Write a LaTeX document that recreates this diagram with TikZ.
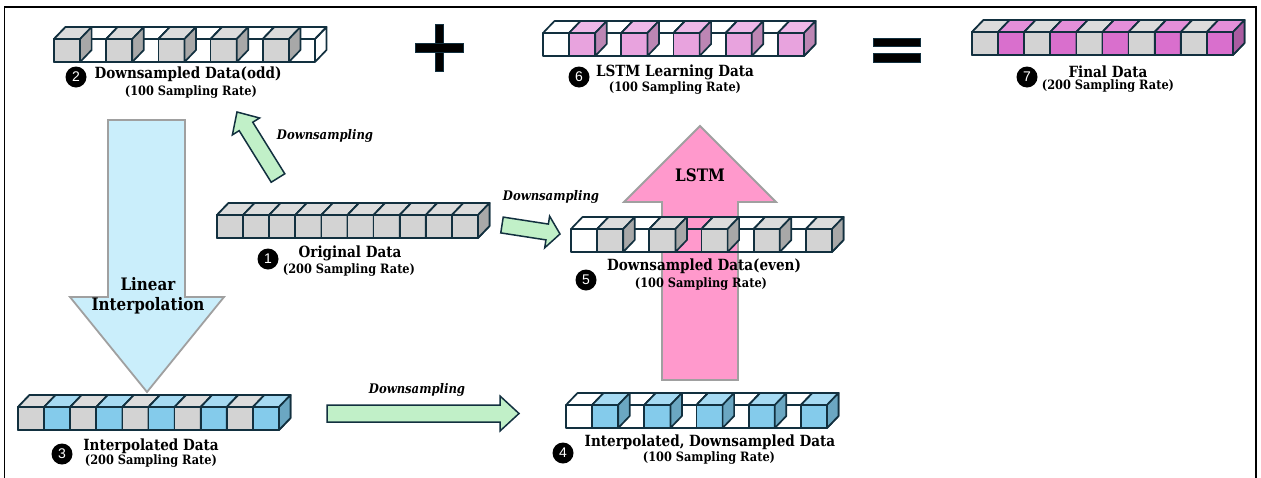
\documentclass[tikz,border=0pt]{standalone}
\usepackage{fontspec}
\setmainfont{DejaVu Serif}[FakeStretch=0.88]
\newfontfamily\numfont{Liberation Sans}
\usetikzlibrary{calc}
\definecolor{edge}{HTML}{12303F}
\definecolor{frontg}{HTML}{D3D3D3}
\definecolor{topg}{HTML}{DCDCDC}
\definecolor{sideg}{HTML}{A8A8A8}
\definecolor{frontb}{HTML}{84CBEB}
\definecolor{topb}{HTML}{A6DAF2}
\definecolor{sideb}{HTML}{6BA7C2}
\definecolor{frontp}{HTML}{E8A3DE}
\definecolor{topp}{HTML}{EEB8E8}
\definecolor{sidep}{HTML}{BC86B4}
\definecolor{frontm}{HTML}{D96FCD}
\definecolor{topm}{HTML}{E48FD9}
\definecolor{sidem}{HTML}{AA5CA1}
\definecolor{arrowgreen}{HTML}{C1F0C8}
\definecolor{arrowblue}{HTML}{CAEEFB}
\definecolor{arrowpink}{HTML}{FF99CC}
\definecolor{arrowgray}{HTML}{A0A0A0}
\def\cw{26.1}
\def\ch{23}
\def\cdx{11.5}
\def\cdy{12}
\newcommand\cubestrip[3]{%
  \foreach \c [count=\i from 0] in {#3} {
    \draw[cubeline] (#1+\i*\cw, #2) rectangle ++(\cw, \ch);
    \draw[cubeline] (#1+\i*\cw, #2) -- ++(\cdx,-\cdy) -- ++(\cw,0) -- ++(-\cdx,\cdy);
  }
  \draw[cubeline] (#1+10*\cw, #2) -- ++(\cdx,-\cdy) -- ++(0,\ch) -- ++(-\cdx,\cdy);
  \foreach \c [count=\i from 0] in {#3} {
    \if\c w\relax\else
      \draw[cubeline, fill=front\c] (#1+\i*\cw, #2) rectangle ++(\cw, \ch);
      \draw[cubeline, fill=top\c] (#1+\i*\cw, #2) -- ++(\cdx,-\cdy) -- ++(\cw,0) -- ++(-\cdx,\cdy) -- cycle;
      \draw[cubeline, fill=side\c] (#1+\i*\cw+\cw, #2) -- ++(\cdx,-\cdy) -- ++(0,\ch) -- ++(-\cdx,\cdy) -- cycle;
    \fi
  }
}
\newcommand\blockarrow[8]{%
  \begin{scope}[shift={(#2,#3)}, rotate=#4]
    \draw[#1] (0,-#6) -- (#5-#8,-#6) -- (#5-#8,-#7) -- (#5,0) -- (#5-#8,#7) -- (#5-#8,#6) -- (0,#6) -- cycle;
  \end{scope}}
\begin{document}
\begin{tikzpicture}[x=1pt,y=-1pt,
  cubeline/.style={draw=edge, line width=1.7pt, line join=round},
  lbl/.style={font=\bfseries\fontsize{15.4}{17}\selectfont, inner sep=0},
  sub/.style={font=\bfseries\fontsize{12.9}{14}\selectfont, inner sep=0},
  ital/.style={font=\bfseries\itshape\fontsize{13.2}{15}\selectfont, inner sep=0},
  big/.style={font=\bfseries\fontsize{17.2}{19}\selectfont, inner sep=0},
  num/.style={circle, fill=black, minimum size=21pt, inner sep=0, text=white, font=\numfont\fontsize{14}{14}\selectfont},
  greenarrow/.style={fill=arrowgreen, draw=edge, line width=1.5pt, line join=miter},
  bigarrow/.style={draw=arrowgray, line width=1.8pt, line join=miter},
  sign/.style={fill=black, draw=edge, line width=1pt}]
\useasboundingbox (0,0) rectangle (1261,477);
\fill[white] (0,0) rectangle (1261,477);
% frame
\draw[black, line width=1.5pt] (4.5,480) -- (4.5,7) -- (1256,7) -- (1256,480);

% big arrows
\draw[bigarrow, fill=arrowblue] (108,120) -- (185,120) -- (185,297) -- (224,297) -- (147,392) -- (70,297) -- (108,297) -- cycle;
\draw[bigarrow, fill=arrowpink] (662,380) -- (662,202) -- (624,202) -- (700,126) -- (776,202) -- (738,202) -- (738,380) -- cycle;

% green arrows
\blockarrow{greenarrow}{278}{178}{121.85}{77.7}{8}{16}{17}
\blockarrow{greenarrow}{502}{225}{-8.8}{58.7}{8}{16}{13}
\blockarrow{greenarrow}{327}{413.5}{0}{192}{8.5}{17.5}{19}

% plus and equals
\draw[sign] (435,24) rectangle (443,71);
\draw[sign] (415,43) rectangle (463,52);
\draw[sign] (873,38) rectangle (920,46);
\draw[sign] (873,53) rectangle (920,62);

% strips
\cubestrip{217}{215}{g,g,g,g,g,g,g,g,g,g}
\cubestrip{54}{39}{g,w,g,w,g,w,g,w,g,w}
\cubestrip{18}{407}{g,b,g,b,g,b,g,b,g,b}
\cubestrip{566}{405}{w,b,w,b,w,b,w,b,w,b}
\cubestrip{571}{229}{w,g,w,g,w,g,w,g,w,g}
\cubestrip{543}{33}{w,p,w,p,w,p,w,p,w,p}
\cubestrip{972}{32}{g,m,g,m,g,m,g,m,g,m}

% labels
\node[num] (n1) at (268,259) {1};
\node[lbl] (t1) at (350,253) {Original Data};
\node[sub] (s1) at (349,270) {(200 Sampling Rate)};

\node[num] (n2) at (76,77) {2};
\node[lbl] (t2) at (188,74) {Downsampled Data(odd)};
\node[sub] (s2) at (191,92) {(100 Sampling Rate)};

\node[num] (n3) at (62,454) {3};
\node[lbl] (t3) at (151,446) {Interpolated Data};
\node[sub] (s3) at (151,461) {(200 Sampling Rate)};

\node[num] (n4) at (563,453) {4};
\node[lbl] (t4) at (710,442) {Interpolated, Downsampled Data};
\node[sub] (s4) at (709,458) {(100 Sampling Rate)};

\node[num] (n5) at (586,280) {5};
\node[lbl] (t5) at (704,266) {Downsampled Data(even)};
\node[sub] (s5) at (701,284) {(100 Sampling Rate)};

\node[num] (n6) at (579,77) {6};
\node[lbl] (t6) at (675,72) {LSTM Learning Data};
\node[sub] (s6) at (675,88) {(100 Sampling Rate)};

\node[num] (n7) at (1027,77) {7};
\node[lbl] (t7) at (1108,72) {Final Data};
\node[sub] (s7) at (1108,86) {(200 Sampling Rate)};

\node[ital] (d1) at (325,136) {Downsampling};
\node[ital] (d2) at (551,197) {Downsampling};
\node[ital] (d3) at (417,390) {Downsampling};

\node[big] (li1) at (148,284) {Linear};
\node[big] (li2) at (148,306) {Interpolation};
\node[big] (lstm) at (700,175) {LSTM};
\end{tikzpicture}
\end{document}
